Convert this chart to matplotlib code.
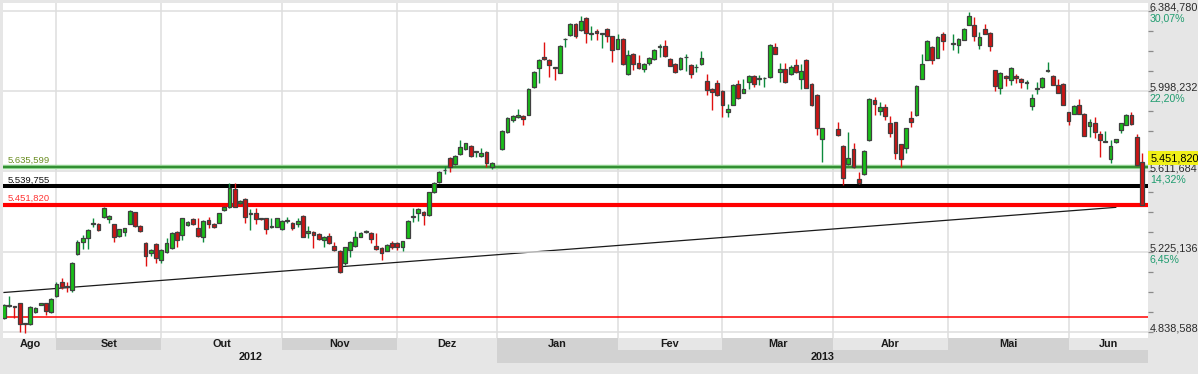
import numpy as np
import pandas as pd
import matplotlib
matplotlib.use("Agg")
import matplotlib.pyplot as plt
from matplotlib.transforms import blended_transform_factory

plt.rcParams["font.family"] = ["Liberation Sans", "DejaVu Sans"]

# ---- colours ----
BG, DARK, GRID = "#e6e6e6", "#d2d2d2", "#dedede"
UP, DOWN, EDGE = "#19c019", "#cc1414", "#404040"
UPWICK, DOWNWICK = "#0c8a3c", "#e01010"
PCT = "#1f9c6f"

# ---- calendar: weekdays on the axis, empty slots on market holidays ----
first_day, last_day = "2012-08-20", "2013-06-21"
not_on_axis = ["2012-12-25", "2012-12-26"]
closed = ["2013-01-01", "2013-03-29", "2013-04-01", "2013-05-01"]
month_names = ["Jan", "Fev", "Mar", "Abr", "Mai", "Jun",
               "Jul", "Ago", "Set", "Out", "Nov", "Dez"]

# ---- daily OHLC ----
opens = [
    4905, 4963, 4963, 4977, 4880, 4878, 4937, 4971, 4977, 4936,
    5011, 5080, 5060, 5040, 5213, 5273, 5290, 5358, 5357, 5391,
    5381, 5357, 5303, 5320, 5360, 5415, 5349, 5266, 5218, 5261,
    5186, 5223, 5244, 5322, 5306, 5354, 5381, 5338, 5295, 5378,
    5360, 5365, 5426, 5442, 5527, 5460, 5478, 5409, 5410, 5384,
    5386, 5345, 5346, 5335, 5376, 5362, 5357, 5397, 5314, 5320,
    5309, 5282, 5301, 5253, 5231, 5170, 5234, 5255, 5298, 5320,
    5314, 5253, 5242, 5231, 5266, 5266, 5250, 5293, 5392, 5410,
    5416, 5402, 5515, 5562, 5618, 5675, 5647, 5694, 5719, 5736,
    5707, 5687, 5707, 5634, 5718, 5803, 5859, 5875, 5878, 5886,
    6019, 6111, 6163, 6151, 6112, 6088, 6249, 6268, 6324, 6295,
    6353, 6275, 6289, 6275, 6300, 6263, 6204, 6252, 6079, 6180,
    6135, 6107, 6135, 6155, 6214, 6215, 6155, 6131, 6103, 6162,
    6127, 6114, 6131, 6047, 6011, 6040, 6000, 5896, 5934, 6035,
    5992, 6043, 6072, 6058, 6061, 6067, 6212, 6091, 6107, 6080,
    6123, 6059, 6151, 6035, 5979, 5766, 5814, 5734, 5646, 5718,
    5574, 5598, 5763, 5955, 5902, 5920, 5843, 5848, 5742, 5723,
    5867, 5883, 6059, 6151, 6212, 6160, 6276, 6227, 6220, 6247,
    6319, 6316, 6223, 6300, 6281, 6099, 6014, 6072, 6051, 6074,
    6059, 6039, 5926, 6010, 6019, 6098, 6074, 6030, 6035, 5896,
    5891, 5934, 5891, 5830, 5843, 5792, 5757, 5670, 5755, 5811,
    5838, 5886, 5776, 5659,
]
highs = [
    4975, 5012, 4966, 4980, 4882, 4962, 4960, 4980, 4980, 5003,
    5080, 5100, 5080, 5178, 5280, 5305, 5335, 5386, 5362, 5442,
    5400, 5360, 5336, 5341, 5426, 5418, 5354, 5270, 5236, 5265,
    5238, 5290, 5322, 5326, 5390, 5374, 5389, 5386, 5378, 5394,
    5364, 5413, 5445, 5555, 5558, 5475, 5482, 5431, 5438, 5390,
    5390, 5386, 5390, 5378, 5394, 5368, 5386, 5400, 5350, 5325,
    5316, 5302, 5314, 5274, 5234, 5250, 5276, 5325, 5321, 5330,
    5318, 5314, 5246, 5262, 5279, 5270, 5279, 5376, 5434, 5434,
    5420, 5514, 5562, 5614, 5639, 5680, 5690, 5763, 5751, 5740,
    5711, 5723, 5711, 5658, 5811, 5875, 5882, 5915, 5882, 6015,
    6095, 6155, 6236, 6155, 6115, 6220, 6254, 6328, 6328, 6359,
    6357, 6311, 6297, 6279, 6304, 6266, 6276, 6256, 6196, 6184,
    6171, 6135, 6164, 6203, 6228, 6244, 6159, 6135, 6164, 6176,
    6131, 6131, 6192, 6080, 6015, 6051, 6004, 5936, 6031, 6051,
    6055, 6076, 6076, 6075, 6066, 6224, 6231, 6135, 6135, 6123,
    6155, 6131, 6155, 6039, 5983, 5823, 5851, 5740, 5800, 5747,
    5610, 5714, 5968, 5971, 5947, 5939, 5880, 5852, 5745, 5822,
    5902, 6028, 6176, 6243, 6215, 6264, 6284, 6276, 6255, 6304,
    6380, 6356, 6284, 6321, 6284, 6102, 6092, 6076, 6116, 6080,
    6062, 6051, 5984, 6043, 6068, 6139, 6078, 6059, 6038, 5899,
    5931, 5960, 5894, 5864, 5872, 5806, 5808, 5763, 5770, 5846,
    5891, 5896, 5792, 5702,
]
lows = [
    4900, 4958, 4905, 4841, 4836, 4870, 4930, 4968, 4920, 4930,
    5005, 5045, 5032, 5033, 5210, 5240, 5240, 5343, 5325, 5388,
    5362, 5270, 5298, 5300, 5358, 5345, 5322, 5157, 5205, 5170,
    5170, 5220, 5240, 5250, 5282, 5350, 5355, 5298, 5274, 5338,
    5338, 5362, 5420, 5438, 5440, 5455, 5362, 5330, 5358, 5378,
    5312, 5340, 5342, 5330, 5362, 5330, 5346, 5295, 5290, 5242,
    5284, 5250, 5262, 5231, 5122, 5162, 5202, 5250, 5294, 5314,
    5269, 5234, 5186, 5228, 5237, 5234, 5229, 5290, 5370, 5372,
    5354, 5398, 5506, 5558, 5602, 5610, 5643, 5690, 5715, 5683,
    5683, 5683, 5634, 5626, 5714, 5799, 5851, 5871, 5835, 5882,
    6015, 6038, 6150, 6067, 6051, 6084, 6212, 6264, 6256, 6290,
    6231, 6244, 6247, 6207, 6236, 6139, 6200, 6127, 6075, 6099,
    6107, 6091, 6123, 6151, 6164, 6164, 6118, 6087, 6099, 6096,
    6064, 6091, 6127, 5979, 5910, 5975, 5872, 5872, 5930, 5962,
    5988, 6011, 6019, 6030, 6019, 6063, 6176, 6043, 6039, 6076,
    6087, 6011, 6012, 5927, 5787, 5659, 5783, 5546, 5642, 5630,
    5550, 5594, 5760, 5883, 5883, 5859, 5779, 5671, 5635, 5702,
    5824, 5880, 6055, 6148, 6131, 6156, 6199, 6199, 6184, 6243,
    6315, 6240, 6200, 6272, 6192, 6000, 5987, 6022, 6027, 6039,
    6016, 6011, 5910, 5984, 6015, 6091, 6026, 5988, 5930, 5835,
    5888, 5888, 5782, 5779, 5771, 5683, 5755, 5651, 5750, 5795,
    5835, 5836, 5640, 5448,
]
closes = [
    4969, 4968, 4961, 4878, 4877, 4958, 4955, 4977, 4942, 4999,
    5068, 5053, 5058, 5170, 5274, 5292, 5330, 5361, 5330, 5436,
    5397, 5295, 5333, 5338, 5423, 5349, 5327, 5205, 5234, 5197,
    5234, 5266, 5314, 5282, 5386, 5370, 5359, 5301, 5375, 5359,
    5346, 5410, 5442, 5532, 5442, 5470, 5394, 5411, 5383, 5383,
    5335, 5347, 5386, 5375, 5378, 5341, 5373, 5298, 5325, 5306,
    5288, 5298, 5266, 5234, 5130, 5247, 5271, 5298, 5317, 5327,
    5288, 5240, 5218, 5258, 5250, 5247, 5275, 5373, 5396, 5430,
    5403, 5511, 5558, 5610, 5620, 5635, 5686, 5731, 5747, 5687,
    5708, 5702, 5655, 5654, 5808, 5867, 5878, 5883, 5865, 6011,
    6091, 6151, 6155, 6127, 6110, 6216, 6250, 6324, 6264, 6337,
    6281, 6277, 6281, 6277, 6264, 6199, 6252, 6131, 6171, 6131,
    6111, 6131, 6160, 6199, 6216, 6168, 6122, 6091, 6160, 6164,
    6083, 6116, 6160, 6006, 5995, 5979, 5934, 5912, 6027, 5966,
    6011, 6072, 6035, 6060, 6063, 6220, 6180, 6107, 6043, 6115,
    6091, 6095, 6016, 5931, 5819, 5819, 5787, 5582, 5679, 5635,
    5554, 5712, 5960, 5936, 5920, 5878, 5798, 5699, 5670, 5819,
    5851, 6024, 6131, 6239, 6151, 6260, 6240, 6229, 6252, 6300,
    6359, 6263, 6260, 6276, 6216, 6024, 6088, 6064, 6112, 6064,
    6043, 6041, 5968, 6016, 6064, 6100, 6030, 5992, 5934, 5856,
    5926, 5891, 5785, 5848, 5804, 5763, 5758, 5734, 5766, 5843,
    5883, 5840, 5643, 5451.820,
]

# price scale, reference (0 %) level and drawn studies
levels = [4838.588, 5225.136, 5611.684, 5998.232, 6384.780]
base = 4908.726
hlines = [5635.599, 5539.755, 5451.820]
trend_dates = ["2012-08-20", "2013-06-14"]
trend_vals = [5029, 5439]


def fmt(v):
    return f"{v:,.3f}".replace(",", "X").replace(".", ",").replace("X", ".")


axis_days = pd.bdate_range(first_day, last_day).drop(pd.to_datetime(not_on_axis))
trade_days = axis_days.drop(pd.to_datetime(closed))
assert len(trade_days) == len(opens) == len(highs) == len(lows) == len(closes)
x = axis_days.get_indexer(trade_days)
xmin, xmax = -0.19, len(axis_days) + 0.15

fig = plt.figure(figsize=(11.98, 3.74), dpi=100, facecolor=BG)
ax = fig.add_axes([3 / 1198, 36 / 374, 1145 / 1198, 335 / 374])
ax.set_facecolor("white")
ax.set_xlim(xmin, xmax)
ax.set_ylim(4809.7, 6423.3)
for s in ax.spines.values():
    s.set_visible(False)

# grid
step = levels[1] - levels[0]
ax.set_yticks(levels)
ax.set_yticks(np.arange(levels[0], levels[-1] + 1, step / 4), minor=True)
ax.grid(axis="y", which="major", color=GRID, lw=1.1, zorder=0)
ax.set_xticks([])
ax.tick_params(axis="y", which="both", left=False, right=True, labelleft=False,
               labelright=False, length=3.6, width=0.9, color="#8a8a8a")

per = axis_days.to_period("M")
month_list = list(per.unique())
starts = [int(np.argmax(per == p)) for p in month_list]
for s0 in starts[1:]:
    ax.axvline(s0, color=GRID, lw=1.1, zorder=0)

# study lines
ax.axhline(base, color="#ff0000", lw=1.1, zorder=1)
tx = axis_days.get_indexer(pd.to_datetime(trend_dates))
ax.plot(tx, trend_vals, color="#1a1a1a", lw=0.9, zorder=1)
ax.axhline(hlines[0], color="#8fd18f", lw=3.2, zorder=1)
ax.axhline(hlines[0], color="#2a8a2a", lw=1.3, zorder=1)
ax.axhline(hlines[1], color="black", lw=2.9, zorder=1)
ax.axhline(hlines[2], color="#ff0000", lw=3.0, zorder=1)

tr = blended_transform_factory(ax.transAxes, ax.transData)
label_cols = ["#6b8e23", "#111111", "#ff3333"]
for v, col in zip(hlines, label_cols):
    ax.annotate(fmt(v), (0.0044, v), xycoords=tr, xytext=(0, 4.6), textcoords="offset points",
                va="center", ha="left", fontsize=6.8, color=col, zorder=6)

# candles
o, h, l, c = (np.array(a, dtype=float) for a in (opens, highs, lows, closes))
up = c >= o
ax.vlines(x[up], l[up], h[up], color=UPWICK, lw=1.0, zorder=3)
ax.vlines(x[~up], l[~up], h[~up], color=DOWNWICK, lw=1.0, zorder=3)
raw = np.abs(c - o)
body = np.maximum(raw, 4)
bottom = np.minimum(o, c) - (body - raw) / 2
ax.bar(x, body, bottom=bottom, width=0.72, color=np.where(up, UP, DOWN),
       edgecolor=EDGE, linewidth=0.9, zorder=4)

# right price scale labels
for v in levels:
    ax.annotate(fmt(v), (1, v), xycoords=tr, xytext=(1.3, 2.4), textcoords="offset points",
                va="center", ha="left", fontsize=7.8, color="#2a2a2a", annotation_clip=False)
    if v > base:
        pct = f"{(v / base - 1) * 100:.2f}%".replace(".", ",")
        ax.annotate(pct, (1, v), xycoords=tr, xytext=(1.3, -5.5), textcoords="offset points",
                    va="center", ha="left", fontsize=7.6, color=PCT, annotation_clip=False)
ax.annotate(fmt(closes[-1]), (1, closes[-1]), xycoords=tr, xytext=(1.6, 33.6),
            textcoords="offset points", va="center", ha="left", fontsize=7.8, color="black",
            annotation_clip=False, zorder=10,
            bbox=dict(boxstyle="square,pad=0.18", fc="#f0f018", ec="none"))

# month / year band under the plot
bax = fig.add_axes([3 / 1198, 11 / 374, 1145 / 1198, 25 / 374])
bax.set_xlim(xmin, xmax)
bax.set_ylim(0, 25)
bax.axis("off")
edges = starts + [xmax]
for i, p in enumerate(month_list):
    a, b = max(edges[i], xmin), edges[i + 1]
    if i % 2 == 1:
        bax.axvspan(a, b, ymin=13 / 25, ymax=1, color=DARK, lw=0)
    bax.text((a + b) / 2, 19, month_names[p.month - 1], ha="center", va="center",
             fontsize=7.8, fontweight="bold", color="#1a1a1a")

years = per.year
for j, yr in enumerate(sorted(set(years))):
    idx = np.where(years == yr)[0]
    a = max(idx[0], xmin)
    b = idx[-1] + 1 if idx[-1] + 1 < len(axis_days) else xmax
    if j % 2 == 1:
        bax.axvspan(a, b, ymin=0, ymax=13 / 25, color=DARK, lw=0)
    bax.text((a + b) / 2, 6.5, str(yr), ha="center", va="center",
             fontsize=7.8, fontweight="bold", color="#1a1a1a")

fig.savefig("out.png", dpi=100, facecolor=BG)
